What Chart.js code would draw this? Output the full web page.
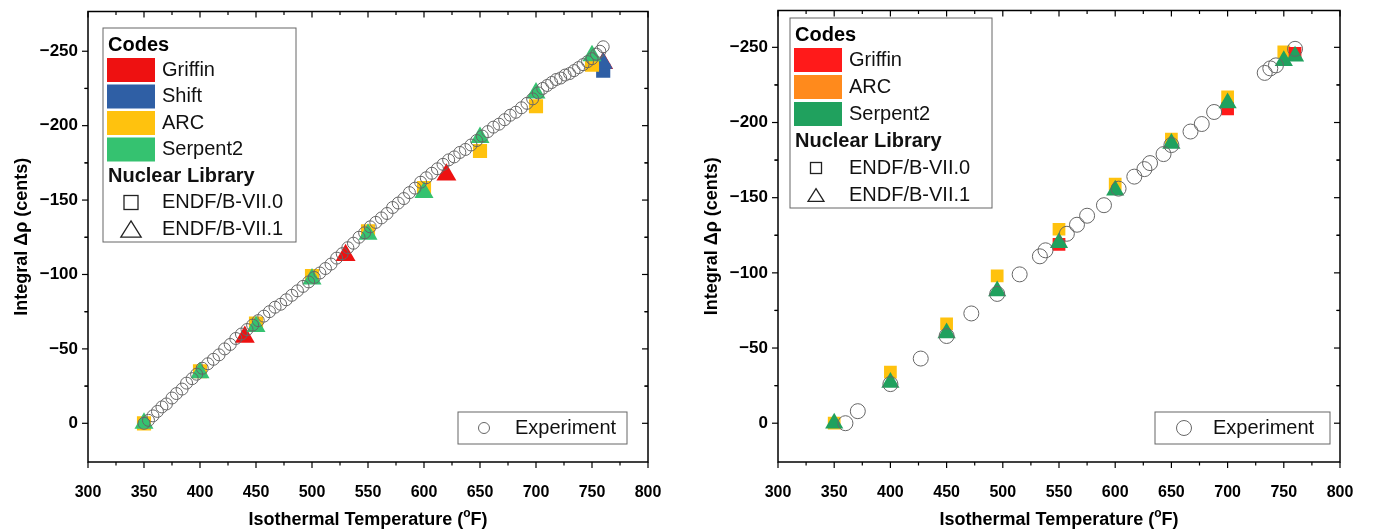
<!DOCTYPE html>
<html>
<head>
<meta charset="utf-8">
<script src="https://cdn.jsdelivr.net/npm/chart.js@4.4.0/dist/chart.umd.min.js"></script>
<style>
  html, body { margin: 0; padding: 0; background: #fff; }
  #wrap { position: relative; width: 1375px; height: 531px; }
  #left { position: absolute; left: 0; top: 0; }
  #right { position: absolute; left: 690px; top: 0; }
</style>
</head>
<body>
<div id="wrap">
  <canvas id="left" width="690" height="531"></canvas>
  <canvas id="right" width="685" height="531"></canvas>
</div>
<script>
const FONT = "'Liberation Sans', Arial, sans-serif";

// axis ticks (shared)
const xTicks = [300, 350, 400, 450, 500, 550, 600, 650, 700, 750, 800];
const yTicks = [-250, -200, -150, -100, -50, 0];

// ---- left panel ----
// experiment, read along the dense string of circles
const expTempL = [350, 354, 358, 362, 366, 370, 375, 379, 384, 388, 393, 397, 402, 407, 412, 417, 422, 427, 432, 437,
  442, 447, 452, 457, 462, 467, 472, 477, 482, 487, 492, 497, 502, 507, 512, 517, 522, 527, 532, 537,
  542, 547, 552, 557, 562, 567, 572, 577, 582, 587, 592, 597, 602, 607, 612, 617, 622, 627, 632, 637,
  642, 647, 652, 657, 662, 667, 672, 677, 682, 687, 692, 697, 702, 706, 710, 714, 718, 722, 726, 730,
  734, 738, 742, 746, 750, 754, 757, 760];
const expRhoL = [0, -2, -5, -8, -11, -13, -17, -20, -23, -27, -30, -33, -37, -40, -43, -46, -50, -53, -57, -60,
  -63, -66, -69, -72, -75, -78, -80, -83, -86, -89, -92, -95, -98, -101, -104, -107, -111, -114, -118, -121,
  -125, -128, -132, -135, -138, -141, -145, -148, -151, -155, -158, -162, -165, -168, -171, -174, -177, -179, -182, -184,
  -187, -190, -193, -196, -199, -201, -204, -207, -209, -212, -215, -218, -222, -225, -227, -229, -231, -232, -234, -235,
  -237, -239, -241, -243, -245, -248, -250, -253];

const codeTempL = [350, 400, 450, 500, 550, 600, 650, 700, 750];
const arcRho0L = [0, -35, -67, -99, -129, -158, -183, -213, -241];
const serpRho1L = [0, -34, -65, -97, -127, -155, -192, -222, -247];
const griffTempL = [440, 530, 620, 760];
const griffRho1L = [-58, -113, -167, -242];
const shiftTempL = [760];
const shiftRho0L = [-237];
const shiftRho1L = [-242];

const codeNamesL = ['Griffin', 'Shift', 'ARC', 'Serpent2'];
const codeColorsL = ['#ee1111', '#2f5fa5', '#ffc20e', '#35c270'];

// ---- right panel ----
const expTempR = [360, 371, 400, 427, 450, 472, 495, 515, 533, 538, 557, 566, 575, 590, 603, 617, 626, 631,
  643, 650, 667, 677, 688, 733, 738, 743, 760];
const expRhoR = [0, -8, -26, -43, -58, -73, -86, -99, -111, -115, -126, -132, -138, -145, -156, -164, -169, -173,
  -179, -185, -194, -199, -207, -233, -236, -238, -249];

const codeTempR = [350, 400, 450, 495, 550, 600, 650, 700, 750, 760];
const arcRho0R = [0, -34, -66, -98, -129, -159, -189, -217, -247];
const serpRho1R = [0, -27, -60, -88, -120, -155, -186, -213, -241, -244];
const griffTempR = [550, 700, 760];
const griffRho0R = [-119, -209, -246];

const codeNamesR = ['Griffin', 'ARC', 'Serpent2'];
const codeColorsR = ['#ff1a1a', '#ff8a1c', '#20a15e'];
const markColorsR = ['#ff1a1a', '#ffc20e', '#20a15e'];

const libNames = ['ENDF/B-VII.0', 'ENDF/B-VII.1'];

const pts = (xs, ys) => ys.map((v, i) => ({ x: xs[i], y: v }));

function expSet(xs, ys, r) {
  return { data: pts(xs, ys), pointStyle: 'circle', pointRadius: r, borderColor: '#666',
    borderWidth: 1, backgroundColor: 'rgba(255,255,255,0)' };
}
function codeSet(xs, ys, color, style, r) {
  return { data: pts(xs, ys), pointStyle: style, pointRadius: r, borderWidth: 0,
    borderColor: color, backgroundColor: color };
}

function minus(v) { return v < 0 ? '\u2212' + Math.abs(v) : String(v); }

// frame, tick marks, axis titles and legends
const panelPlugin = {
  id: 'panel',
  afterDraw(chart, args, o) {
    const ctx = chart.ctx, a = chart.chartArea;
    const xs = chart.scales.x, ys = chart.scales.y;
    ctx.save();
    ctx.strokeStyle = '#000';
    ctx.lineWidth = 1.5;
    ctx.strokeRect(a.left, a.top, a.right - a.left, a.bottom - a.top);
    ctx.lineWidth = 1.2;
    const seg = (x1, y1, x2, y2) => { ctx.beginPath(); ctx.moveTo(x1, y1); ctx.lineTo(x2, y2); ctx.stroke(); };
    const xt = (v, len) => {
      const p = xs.getPixelForValue(v);
      seg(p, a.bottom, p, a.bottom + len);
      seg(p, a.top, p, a.top + len);
    };
    const yt = (v, len) => {
      const p = ys.getPixelForValue(v);
      if (p < a.top + 3 || p > a.bottom - 3) return;
      seg(a.left, p, a.left - len, p);
      seg(a.right, p, a.right - len, p);
    };
    xs.ticks.forEach((t, i) => {
      xt(t.value, 6);
      if (i < xs.ticks.length - 1) xt((t.value + xs.ticks[i + 1].value) / 2, 3.5);
    });
    ys.ticks.forEach(t => { yt(t.value, 6); yt(t.value - 25, 3.5); yt(t.value + 25, 3.5); });

    // x title with superscript o
    ctx.fillStyle = '#000';
    ctx.textBaseline = 'middle';
    ctx.font = 'bold 18px ' + FONT;
    const p1 = 'Isothermal Temperature (', p3 = 'F)';
    const supFont = 'bold 12px ' + FONT;
    const w1 = ctx.measureText(p1).width, w3 = ctx.measureText(p3).width;
    ctx.font = supFont;
    const w2 = ctx.measureText('o').width;
    let x0 = (a.left + a.right) / 2 - (w1 + w2 + w3) / 2;
    const ty = 520;
    ctx.font = 'bold 18px ' + FONT;
    ctx.textAlign = 'left';
    ctx.fillText(p1, x0, ty);
    ctx.font = supFont;
    ctx.fillText('o', x0 + w1, ty - 6);
    ctx.font = 'bold 18px ' + FONT;
    ctx.fillText(p3, x0 + w1 + w2, ty);

    // y title
    ctx.save();
    ctx.translate(o.yTitleX, (a.top + a.bottom) / 2);
    ctx.rotate(-Math.PI / 2);
    ctx.textAlign = 'center';
    ctx.font = 'bold 18px ' + FONT;
    ctx.fillText('Integral \u0394\u03c1 (cents)', 0, 0);
    ctx.restore();

    // code legend
    const L = o.legend;
    ctx.lineWidth = 1;
    ctx.strokeStyle = '#666';
    ctx.strokeRect(L.x, L.y, L.w, L.h);
    ctx.textAlign = 'left';
    ctx.font = 'bold 20px ' + FONT;
    ctx.fillText('Codes', L.x + 5, L.codesY);
    L.names.forEach((n, i) => {
      const cy = L.rowY + i * L.rowH;
      ctx.fillStyle = L.colors[i];
      ctx.fillRect(L.x + 4, cy - 12, 48, 24);
      ctx.fillStyle = '#111';
      ctx.font = '20px ' + FONT;
      ctx.fillText(n, L.x + 59, cy);
    });
    const nlY = L.rowY + L.names.length * L.rowH;
    ctx.font = 'bold 20px ' + FONT;
    ctx.fillText('Nuclear Library', L.x + 5, nlY);
    ctx.font = '20px ' + FONT;
    ctx.strokeStyle = '#222';
    ctx.lineWidth = 1.3;
    const sq = L.sym;
    const y0 = nlY + L.rowH, y1 = nlY + 2 * L.rowH;
    ctx.strokeRect(L.symX - sq / 2, y0 - sq / 2, sq, sq);
    ctx.beginPath();
    const tw = sq * 1.45, th = sq * 1.15;
    ctx.moveTo(L.symX, y1 - th / 2);
    ctx.lineTo(L.symX + tw / 2, y1 + th / 2);
    ctx.lineTo(L.symX - tw / 2, y1 + th / 2);
    ctx.closePath();
    ctx.stroke();
    ctx.fillText(libNames[0], L.x + 59, y0);
    ctx.fillText(libNames[1], L.x + 59, y1);

    // experiment legend
    const E = o.exp;
    ctx.strokeStyle = '#666';
    ctx.lineWidth = 1;
    ctx.strokeRect(E.x, E.y, E.w, E.h);
    ctx.strokeStyle = '#666';
    ctx.beginPath();
    ctx.arc(E.x + E.cx, E.y + E.h / 2, E.r, 0, Math.PI * 2);
    ctx.stroke();
    ctx.fillStyle = '#111';
    ctx.fillText('Experiment', E.x + E.tx, E.y + E.h / 2);
    ctx.restore();
  }
};

function makeChart(id, c) {
  return new Chart(document.getElementById(id), {
    type: 'scatter',
    data: { datasets: c.datasets },
    options: {
      responsive: false,
      animation: false,
      layout: { padding: { left: 0, right: c.padRight, top: c.top, bottom: 0 } },
      plugins: { legend: { display: false }, tooltip: { enabled: false }, panel: c.panel },
      scales: {
        x: {
          type: 'linear', min: 300, max: 800,
          afterBuildTicks: s => { s.ticks = xTicks.map(v => ({ value: v })); },
          ticks: { padding: 21, maxRotation: 0, color: '#000', font: { family: FONT, size: 16, weight: 'bold' } },
          grid: { display: false, drawTicks: false },
          border: { display: false },
          afterFit: s => { s.height = 531 - c.bottom; s.paddingLeft = 0; s.paddingRight = 0; }
        },
        y: {
          type: 'linear', reverse: true, min: c.yMin, max: c.yMax,
          afterBuildTicks: s => { s.ticks = yTicks.map(v => ({ value: v })); },
          ticks: { padding: 10, color: '#000', font: { family: FONT, size: 17, weight: 'bold' }, callback: v => minus(v) },
          grid: { display: false, drawTicks: false },
          border: { display: false },
          afterFit: s => { s.width = c.left; s.paddingTop = 0; s.paddingBottom = 0; }
        }
      }
    },
    plugins: [panelPlugin]
  });
}

makeChart('left', {
  left: 88, padRight: 690 - 648, top: 8, bottom: 462, yMin: -276.7, yMax: 26,
  datasets: [
    expSet(expTempL, expRhoL, 6),
    codeSet(codeTempL, serpRho1L, codeColorsL[3], 'triangle', 11),
    codeSet(codeTempL, arcRho0L, codeColorsL[2], 'rect', 10),
    codeSet(shiftTempL, shiftRho1L, codeColorsL[1], 'triangle', 11),
    codeSet(shiftTempL, shiftRho0L, codeColorsL[1], 'rect', 10),
    codeSet(griffTempL, griffRho1L, codeColorsL[0], 'triangle', 11.5)
  ],
  panel: {
    yTitleX: 22,
    legend: { x: 103, y: 28, w: 193, h: 214, codesY: 45, rowY: 70, rowH: 26.5, names: codeNamesL, colors: codeColorsL, symX: 131, sym: 14 },
    exp: { x: 458, y: 412, w: 169, h: 32, cx: 26, r: 5.5, tx: 57 }
  }
});

makeChart('right', {
  left: 88, padRight: 685 - 650, top: 8, bottom: 462, yMin: -274.5, yMax: 25.8,
  datasets: [
    expSet(expTempR, expRhoR, 7.5),
    codeSet(codeTempR, serpRho1R, markColorsR[2], 'triangle', 10.5),
    codeSet(griffTempR, griffRho0R, markColorsR[0], 'rect', 9),
    codeSet(codeTempR.slice(0, 9), arcRho0R, markColorsR[1], 'rect', 9)
  ],
  panel: {
    yTitleX: 22,
    legend: { x: 100, y: 18, w: 202, h: 190, codesY: 35, rowY: 60, rowH: 27, names: codeNamesR, colors: codeColorsR, symX: 126, sym: 11 },
    exp: { x: 465, y: 412, w: 175, h: 32, cx: 29, r: 7.5, tx: 58 }
  }
});
</script>
</body>
</html>
